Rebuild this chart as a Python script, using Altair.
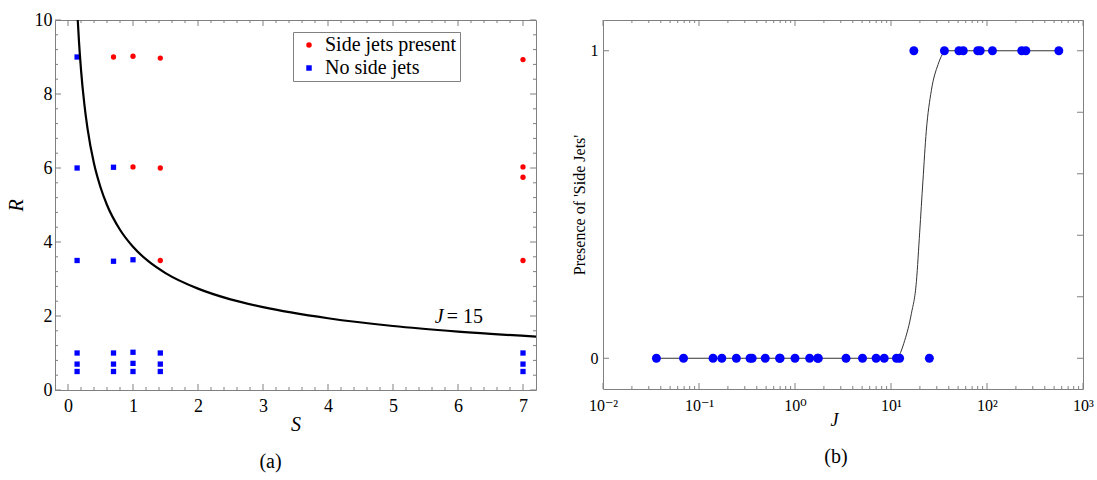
import json
import altair as alt
import pandas as pd

FONT = "'Liberation Serif', 'Times New Roman', Times, 'DejaVu Serif', serif"
GRAY = "#808080"
RED = "#ff0000"
BLUE = "#0000ff"

# ---------------- panel (a): R versus S ----------------
SERIES = ["Side jets present", "No side jets"]
S_present = [0.70, 1.00, 1.00, 1.42, 1.42, 1.42, 7.00, 7.00, 7.00, 7.00]
R_present = [9.00, 9.02, 6.03, 8.97, 6.00, 3.50, 8.93, 6.03, 5.75, 3.50]
S_none = [0.14, 0.14, 0.14, 0.14, 0.14, 0.14,
          0.70, 0.70, 0.70, 0.70, 0.70,
          1.00, 1.00, 1.00, 1.00,
          1.42, 1.42, 1.42,
          7.00, 7.00, 7.00]
R_none = [9.00, 6.00, 3.50, 1.00, 0.70, 0.50,
          6.02, 3.48, 1.00, 0.70, 0.50,
          3.52, 1.02, 0.72, 0.50,
          1.00, 0.70, 0.50,
          1.00, 0.70, 0.50]

# J = 15 boundary curve
S_curve = [0.15, 0.17, 0.20, 0.25, 0.30, 0.40, 0.50, 0.60, 0.80, 1.00,
           1.25, 1.50, 2.00, 2.50, 3.00, 4.00, 5.00, 6.00, 7.20]
R_curve = [10.0, 9.39, 8.66, 7.75, 7.07, 6.12, 5.48, 5.00, 4.33, 3.87,
           3.46, 3.16, 2.74, 2.45, 2.24, 1.94, 1.73, 1.58, 1.44]

J_label_S = [5.78]
J_label_R = [1.80]

a_x_major = [0, 1, 2, 3, 4, 5, 6, 7]
a_x_minor = [round(i * 0.2, 1) for i in range(1, 36) if i % 5 != 0]
a_y_major = [0, 2, 4, 6, 8, 10]
a_y_minor = [round(i * 0.4, 1) for i in range(1, 25) if i % 5 != 0]

# ---------------- panel (b): presence versus J ----------------
J_zero = [0.036, 0.069, 0.14, 0.173, 0.245, 0.34, 0.358, 0.49, 0.69, 0.70,
          1.0, 1.42, 1.72, 1.75, 3.4, 5.05, 7.0, 8.5, 11.4, 12.3, 25.1]
J_one = [17.3, 36.0, 51.0, 56.6, 80.0, 85.0, 114.0, 230.0, 254.0, 560.0]

J_fit = [0.036, 11.35, 13.9, 16.3, 18.4, 19.9, 21.5, 23.3, 26.3, 30.9, 37.7, 560.0]
P_fit = [0.0, 0.0, 0.058, 0.145, 0.25, 0.41, 0.576, 0.738, 0.87, 0.955, 1.0, 1.0]

b_x_major = [0.01, 0.1, 1, 10, 100, 1000]
b_x_labels = ["10⁻²", "10⁻¹", "10⁰", "10¹", "10²", "10³"]
b_x_minor = [m * 10.0 ** k for k in range(-2, 3) for m in range(2, 10)]
b_y_left = [0, 1]
b_y_right = [0, 0.2, 0.4, 0.6, 0.8, 1.0]

A_W, A_H = 481, 370
B_W, B_H = 480, 369
MAJ, MIN = 6, 3


def xticks(vals, scale, H, length):
    base = alt.Chart(pd.DataFrame({"v": vals})).mark_rule(color=GRAY, strokeWidth=1)
    x = alt.X("v:Q", scale=scale)
    return [base.encode(x=x, y=alt.value(H), y2=alt.value(H - length)),
            base.encode(x=x, y=alt.value(0), y2=alt.value(length))]


def yticks(vals, scale, W, length, sides=("left", "right")):
    base = alt.Chart(pd.DataFrame({"v": vals})).mark_rule(color=GRAY, strokeWidth=1)
    y = alt.Y("v:Q", scale=scale)
    out = []
    if "left" in sides:
        out.append(base.encode(y=y, x=alt.value(0), x2=alt.value(length)))
    if "right" in sides:
        out.append(base.encode(y=y, x=alt.value(W), x2=alt.value(W - length)))
    return out


# ----- build panel (a)
xa = alt.Scale(domain=[-0.2, 7.2], zero=False, nice=False)
ya = alt.Scale(domain=[0, 10], zero=False, nice=False)

pts_a = pd.DataFrame({
    "S": S_present + S_none,
    "R": R_present + R_none,
    "type": [SERIES[0]] * len(S_present) + [SERIES[1]] * len(S_none),
})

leg = dict(title=None, orient="none", legendX=238, legendY=12,
           strokeColor=GRAY, fillColor="white", padding=3, cornerRadius=0,
           labelFont=FONT, labelFontSize=20, labelColor="black",
           symbolSize=30, symbolStrokeWidth=0, symbolOffset=3,
           labelOffset=6, rowPadding=3)

points_a = alt.Chart(pts_a).mark_point(filled=True, opacity=1, size=28).encode(
    x=alt.X("S:Q", scale=xa, axis=alt.Axis(
        values=a_x_major, format="d", labelFontSize=18, labelPadding=7, labelFlush=False,
        title="S", titleFontStyle="italic", titleFontSize=20, titlePadding=-1)),
    y=alt.Y("R:Q", scale=ya, axis=alt.Axis(
        values=a_y_major, format="d", labelFontSize=18, labelPadding=3,
        title="R", titleFontStyle="italic", titleFontSize=20, titlePadding=8)),
    color=alt.Color("type:N", scale=alt.Scale(domain=SERIES, range=[RED, BLUE]),
                    legend=alt.Legend(**leg)),
    shape=alt.Shape("type:N", scale=alt.Scale(domain=SERIES, range=["circle", "square"]),
                    legend=alt.Legend(**leg)),
)

curve_a = alt.Chart(pd.DataFrame({"S": S_curve, "R": R_curve})).mark_line(
    color="black", strokeWidth=2.2, interpolate="monotone", clip=True).encode(
    x=alt.X("S:Q", scale=xa), y=alt.Y("R:Q", scale=ya))

lab_df = pd.DataFrame({"S": J_label_S, "R": J_label_R})
lab_j = alt.Chart(lab_df).mark_text(font=FONT, fontSize=20, fontStyle="italic",
                                    align="right", baseline="alphabetic", text="J").encode(
    x=alt.X("S:Q", scale=xa), y=alt.Y("R:Q", scale=ya))
lab_eq = alt.Chart(lab_df).mark_text(font=FONT, fontSize=20, align="left", dx=3,
                                     baseline="alphabetic", text="= 15").encode(
    x=alt.X("S:Q", scale=xa), y=alt.Y("R:Q", scale=ya))

layers_a = ([points_a, curve_a, lab_j, lab_eq]
            + xticks(a_x_major, xa, A_H, MAJ) + xticks(a_x_minor, xa, A_H, MIN)
            + yticks(a_y_major, ya, A_W, MAJ) + yticks(a_y_minor, ya, A_W, MIN))

panel_a = alt.layer(*layers_a).properties(
    width=A_W, height=A_H,
    title=alt.TitleParams("(a)", orient="bottom", font=FONT, fontSize=20,
                          fontWeight="normal", color="black", dx=-25, offset=18))

# ----- build panel (b)
xb = alt.Scale(type="log", domain=[0.01, 1000], nice=False)
yb = alt.Scale(domain=[-0.1, 1.1], zero=False, nice=False)

pts_b = pd.DataFrame({"J": J_zero + J_one, "P": [0] * len(J_zero) + [1] * len(J_one)})
label_expr = json.dumps(b_x_labels, ensure_ascii=False) + "[round(log(datum.value)/LN10)+2]"

points_b = alt.Chart(pts_b).mark_circle(size=80, opacity=1, color=BLUE).encode(
    x=alt.X("J:Q", scale=xb, axis=alt.Axis(
        values=b_x_major, labelExpr=label_expr, labelFontSize=16, labelPadding=8,
        labelFlush=False,
        title="J", titleFontStyle="italic", titleFontSize=18, titlePadding=-2, titleX=231)),
    y=alt.Y("P:Q", scale=yb, axis=alt.Axis(
        values=b_y_left, format="d", labelFontSize=16, labelPadding=5,
        title="Presence of 'Side Jets'", titleFontSize=16, titlePadding=3)))

fit_b = alt.Chart(pd.DataFrame({"J": J_fit, "P": P_fit})).mark_line(
    color="#333333", strokeWidth=1, interpolate="monotone").encode(
    x=alt.X("J:Q", scale=xb), y=alt.Y("P:Q", scale=yb))

# axis-carrying (invisible) layer first so its explicit axis settings win the merge
layers_b = ([points_b.mark_circle(size=0, opacity=0), fit_b, points_b]
            + xticks(b_x_major, xb, B_H, MAJ) + xticks(b_x_minor, xb, B_H, MIN)
            + yticks(b_y_left, yb, B_W, MAJ, sides=("left",))
            + yticks(b_y_right, yb, B_W, MAJ, sides=("right",)))

panel_b = alt.layer(*layers_b).properties(
    width=B_W, height=B_H,
    title=alt.TitleParams("(b)", orient="bottom", font=FONT, fontSize=20,
                          fontWeight="normal", color="black", dx=-7, offset=18))

chart = alt.hconcat(panel_a, panel_b, spacing=67, bounds="flush").properties(
    padding={"left": 5, "top": 10, "right": 3, "bottom": 2}
).configure_view(stroke=GRAY, strokeWidth=1).configure_axis(
    grid=False, domain=False, ticks=False, labelFont=FONT, titleFont=FONT,
    labelColor="black", titleColor="black", titleFontWeight="normal")

chart.save("out.html", embed_options={"renderer": "svg", "actions": False})
